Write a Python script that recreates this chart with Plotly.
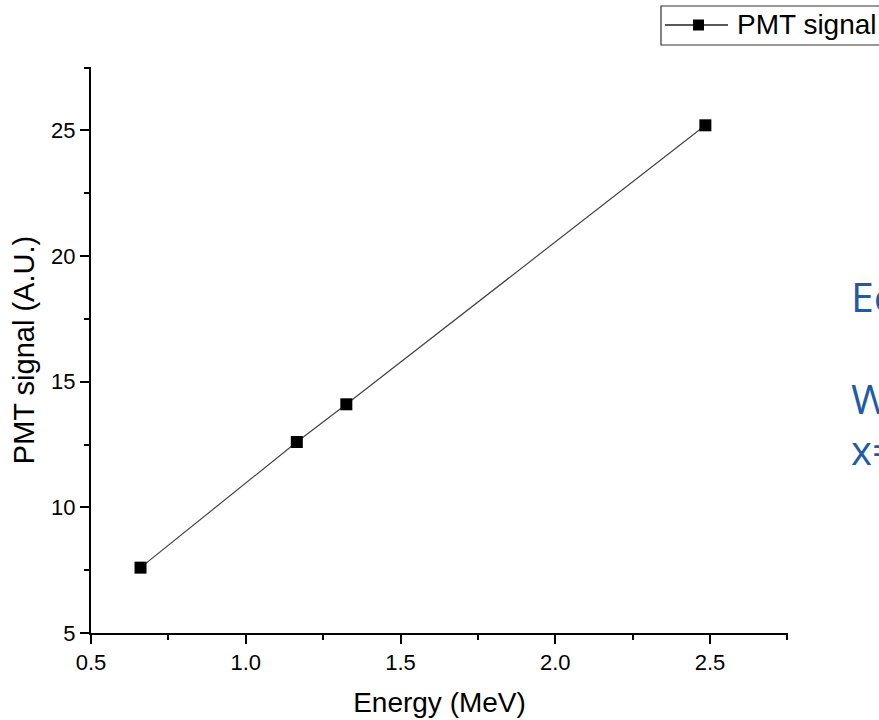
import plotly.graph_objects as go

# Measured calibration points
energy_mev = [0.66, 1.165, 1.325, 2.485]
pmt_signal = [7.6, 12.6, 14.1, 25.2]

series_name = "PMT signal"
x_title = "Energy (MeV)"
y_title = "PMT signal (A.U.)"
side_lines = ["Ec", "W", "x="]

W, H = 879, 720
ML, MR, MT, MB = 91, 91, 67, 87
PW, PH = W - ML - MR, H - MT - MB


def px(xp):
    return (xp - ML) / PW


def py(yp):
    return (H - MB - yp) / PH


fig = go.Figure()
fig.add_trace(go.Scatter(
    x=energy_mev, y=pmt_signal, mode="lines+markers", name=series_name,
    line=dict(color="#444444", width=1.2),
    marker=dict(symbol="square", size=12, color="black"),
    showlegend=False,
))

axis_common = dict(
    showline=True, linecolor="black", linewidth=2,
    ticks="outside", ticklen=9, tickwidth=2, tickcolor="black",
    showgrid=False, zeroline=False,
    tickfont=dict(family="Liberation Sans, Arial", size=22, color="black"),
)

fig.update_xaxes(
    range=[0.5, 2.752], tick0=0.5, dtick=0.5, tickformat=".1f",
    minor=dict(dtick=0.25, tick0=0.5, ticks="outside", ticklen=5, tickwidth=2,
               tickcolor="black", showgrid=False),
    title=dict(text=x_title, standoff=18,
               font=dict(family="Liberation Sans, Arial", size=28, color="black")),
    **axis_common,
)
fig.update_yaxes(
    range=[5, 27.52], tick0=5, dtick=5,
    minor=dict(dtick=2.5, tick0=5, ticks="outside", ticklen=5, tickwidth=2,
               tickcolor="black", showgrid=False),
    title=dict(text=y_title, standoff=8,
               font=dict(family="Liberation Sans, Arial", size=29, color="black")),
    **axis_common,
)

# Legend box drawn at the top right
legend_y = py(25)
shapes = [
    dict(type="rect", xref="paper", yref="paper",
         x0=px(661), x1=px(905), y0=py(45), y1=py(6),
         line=dict(color="#333", width=1.2), fillcolor="white"),
    dict(type="line", xref="paper", yref="paper",
         x0=px(665), x1=px(728), y0=legend_y, y1=legend_y,
         line=dict(color="#222", width=1.5)),
    dict(type="rect", xref="paper", yref="paper",
         x0=px(693), x1=px(704), y0=py(30.5), y1=py(19.5),
         line=dict(color="black", width=0), fillcolor="black"),
]
annotations = [
    dict(xref="paper", yref="paper", x=px(735), y=legend_y,
         xanchor="left", yanchor="middle", text=series_name, showarrow=False,
         font=dict(family="Liberation Sans, Arial", size=28, color="black")),
]

# Text running off the right edge
blue = "#1F5CA6"
for txt, ypix, size in zip(side_lines, [296, 398, 449], [41, 41, 40]):
    annotations.append(dict(
        xref="paper", yref="paper", x=px(849), y=py(ypix),
        xanchor="left", yanchor="middle", text=txt, showarrow=False,
        font=dict(family="Open Sans", size=size, color=blue),
    ))

fig.update_layout(
    width=W, height=H,
    margin=dict(l=ML, r=MR, t=MT, b=MB, autoexpand=False),
    paper_bgcolor="white", plot_bgcolor="white",
    shapes=shapes, annotations=annotations,
    showlegend=False,
)

fig.write_html("out.html")
